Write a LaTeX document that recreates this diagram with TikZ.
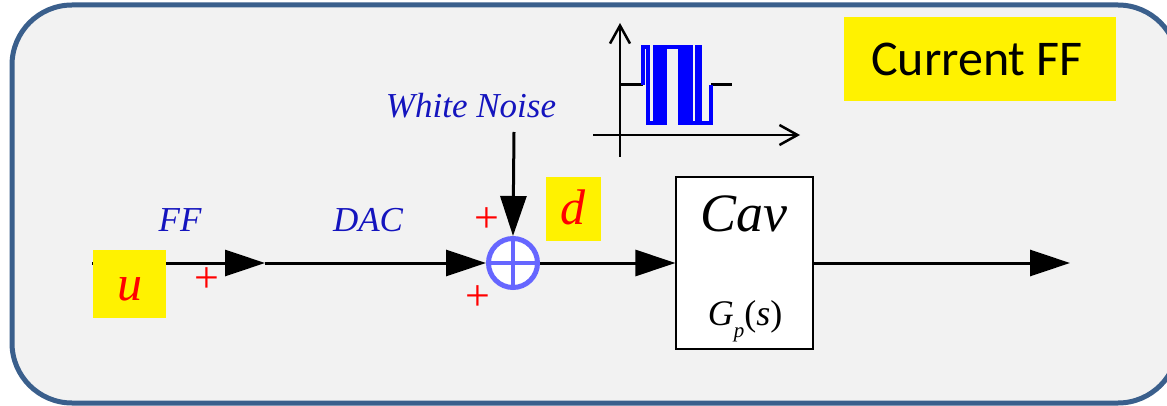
\documentclass[tikz,border=0pt]{standalone}
\usepackage{fontspec}
\setmainfont{Liberation Serif}
\newfontfamily\calib{Carlito}
\usetikzlibrary{arrows.meta}
\definecolor{framec}{RGB}{58,95,140}
\definecolor{bgc}{RGB}{242,242,242}
\definecolor{lblue}{RGB}{20,20,190}
\definecolor{sumc}{RGB}{102,102,255}
\definecolor{wblue}{RGB}{0,0,255}
\begin{document}
\begin{tikzpicture}[x=1pt,y=-1pt,
  sig/.style={line width=3pt, -{Triangle[length=40pt,width=26pt]}},
  lbl/.style={anchor=base, text=lblue, font=\fontsize{35}{35}\selectfont\itshape, inner sep=0pt},
  plus/.style={anchor=base, text=red, font=\fontsize{44}{44}\selectfont, inner sep=0pt},
  ybox/.style={fill=yellow, inner sep=0pt},
  redlbl/.style={anchor=base, text=red, font=\fontsize{50}{50}\selectfont\itshape, inner sep=0pt},
  sumnode/.style={circle, draw=sumc, line width=5pt, fill=white, minimum size=49pt, inner sep=0pt},
  cavbox/.style={draw=black, line width=1.2pt, fill=white, minimum width=137pt, minimum height=172pt, inner sep=0pt},
  axisline/.style={line width=2.5pt, -{Straight Barb[length=18pt,width=20pt]}},
  wave/.style={wblue, line width=3.5pt},
  level/.style={black, line width=3pt}
]
\useasboundingbox (0,0) rectangle (1167,406);
\clip (0,0) rectangle (1167,406);
\fill[white] (0,0) rectangle (1167,406);
\draw[line width=5pt, draw=framec, fill=bgc, rounded corners=60pt] (12,5) rectangle (1178,403);

% inset waveform
\coordinate (yb) at (620,157);
\coordinate (yt) at (620,23);
\coordinate (xl) at (593,135);
\coordinate (xr) at (800,135);
\draw[axisline] (yb) -- (yt);
\draw[axisline] (xl) -- (xr);
\draw[level] (620,85) -- (643,85);
\draw[level] (711,85) -- (732,85);
\draw[wave] (643,85) -- (643,47) -- (648,47) -- (648,123) -- (655,123) -- (655,47) -- (657,47) -- (657,123) -- (659,123) -- (659,47) -- (663,47) -- (663,123) -- (665,123) -- (665,47) -- (680,47) -- (680,123) -- (683,123) -- (683,47) -- (686,47) -- (686,123) -- (689,123) -- (689,47) -- (691,47) -- (691,123) -- (697,123) -- (697,47) -- (700,47) -- (700,123) -- (711,123) -- (711,85);

% signal path
\coordinate (start) at (92,263);
\coordinate (ffa) at (265,263);
\coordinate (noise) at (514,132);
\coordinate (out) at (1070,263);
\node[sumnode] (sum) at (513,263) {};
\draw[sumc, line width=3.5pt] (sum.north) -- (sum.south);
\draw[sumc, line width=3.5pt] (sum.west) -- (sum.east);
\node[cavbox] (cav) at (744.5,263) {};

\draw[sig] (start) -- (ffa);
\draw[sig] (ffa) -- (sum.west);
\draw[sig] (noise) -- (sum.north);
\draw[sig] (sum.east) -- (cav.west);
\draw[sig] (cav.east) -- (out);

% yellow boxes
\node[ybox, minimum width=73pt, minimum height=68pt] (ubox) at (129.5,284) {};
\node[redlbl] (u) at (130,300) {u};
\node[ybox, minimum width=55pt, minimum height=64pt] (dbox) at (573.5,209) {};
\node[redlbl] (d) at (573,225) {d};
\node[ybox, minimum width=272pt, minimum height=84pt] (cffbox) at (980,59) {};
\node[anchor=base, inner sep=0pt, font=\calib\fontsize{50}{50}\selectfont] (cff) at (977,76) {Current FF};

% labels
\node[lbl] (ff) at (180,232) {FF};
\node[lbl] (dac) at (368,232) {DAC};
\node[lbl] (wn) at (471,118) {White Noise};
\node[plus] (p1) at (207,292) {+};
\node[plus] (p2) at (487,233) {+};
\node[plus] (p3) at (478,310) {+};

% cavity text
\node[anchor=base, inner sep=0pt, font=\fontsize{54}{54}\selectfont\itshape] (cavt) at (744,232) {Cav};
\node[anchor=base, inner sep=0pt, font=\fontsize{36}{36}\selectfont] (gps) at (745,325) {\textit{G}\raisebox{-0.35em}{\fontsize{21}{21}\selectfont\textit{p}}(\textit{s})};
\end{tikzpicture}
\end{document}
